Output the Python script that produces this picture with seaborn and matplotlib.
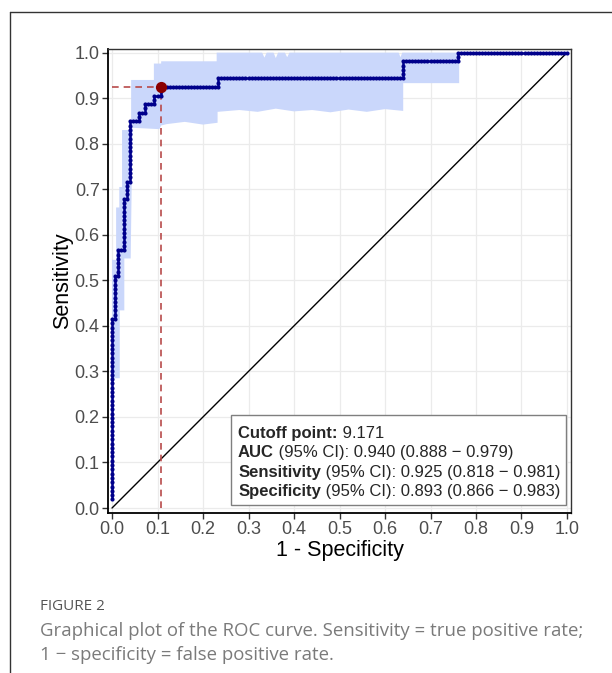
import numpy as np
import pandas as pd
import matplotlib
matplotlib.use("Agg")
import matplotlib.pyplot as plt
from matplotlib.patches import Rectangle
import seaborn as sns

# ROC curve: case counts at each corner of the step curve
n_neg = 150
n_pos = 106
corner_fp = [0, 0, 1, 1, 2, 2, 4, 4, 5, 5, 6, 6, 9, 9, 11, 11, 14, 14, 16, 16, 35, 35, 96, 96, 114, 114, 150]
corner_tp = [2, 44, 44, 54, 54, 60, 60, 72, 72, 76, 76, 90, 90, 92, 92, 94, 94, 96, 96, 98, 98, 100, 100, 104, 104, 106, 106]

# best cutoff
cut_fpr = 0.107
cut_tpr = 0.925

# 95% CI band outline (1 - specificity, sensitivity)
band_fpr = [0.000, 0.000, 0.009, 0.009, 0.016, 0.016, 0.022, 0.022, 0.042, 0.042, 0.092, 0.092,
            0.108, 0.108, 0.230, 0.230, 0.330, 0.335, 0.340, 0.355, 0.360, 0.365, 0.380, 0.385,
            0.390, 0.630, 0.634, 0.638, 0.763,
            0.763, 0.640, 0.640, 0.600, 0.560, 0.520, 0.480, 0.440, 0.400, 0.360, 0.320, 0.280,
            0.232, 0.232, 0.200, 0.160, 0.120, 0.108, 0.104, 0.045, 0.041, 0.027, 0.027, 0.017,
            0.017, 0.000]
band_tpr = [0.285, 0.545, 0.545, 0.660, 0.660, 0.705, 0.705, 0.830, 0.830, 0.940, 0.940, 0.976,
            0.976, 0.981, 0.981, 1.000, 1.000, 0.989, 1.000, 1.000, 0.988, 1.000, 1.000, 0.990,
            1.000, 1.000, 0.990, 1.000, 1.000,
            0.933, 0.933, 0.872, 0.876, 0.870, 0.875, 0.869, 0.874, 0.871, 0.877, 0.870, 0.874,
            0.870, 0.846, 0.842, 0.848, 0.843, 0.840, 0.832, 0.835, 0.548, 0.548, 0.434, 0.434,
            0.285, 0.285]

ticks = [0.0, 0.1, 0.2, 0.3, 0.4, 0.5, 0.6, 0.7, 0.8, 0.9, 1.0]
box_bold = ["Cutoff point:", "AUC", "Sensitivity", "Specificity"]
box_rest = [" 9.171",
            " (95% CI): 0.940 (0.888 − 0.979)",
            " (95% CI): 0.925 (0.818 − 0.981)",
            " (95% CI): 0.893 (0.866 − 0.983)"]

# walk the corners one case at a time to get every threshold point
fp_pts, tp_pts = [corner_fp[0]], [corner_tp[0]]
for fp, tp in zip(corner_fp[1:], corner_tp[1:]):
    while fp_pts[-1] < fp:
        fp_pts.append(fp_pts[-1] + 1)
        tp_pts.append(tp_pts[-1])
    while tp_pts[-1] < tp:
        fp_pts.append(fp_pts[-1])
        tp_pts.append(tp_pts[-1] + 1)
roc = pd.DataFrame({"fpr": np.array(fp_pts) / n_neg, "tpr": np.array(tp_pts) / n_pos})

sns.set_style("whitegrid")
plt.rcParams["font.family"] = ["Liberation Sans", "DejaVu Sans"]

fig = plt.figure(figsize=(6.12, 6.73), dpi=100)
ax = fig.add_axes([0.1765, 0.2377, 0.7565, 0.6895])

ax.fill(band_fpr, band_tpr, color="#cad7fb", lw=0, zorder=1)
ax.plot([0, 1], [0, 1], color="black", lw=1.0, zorder=2)
ax.plot([0, cut_fpr], [cut_tpr, cut_tpr], color="#b84a4a", lw=1.2, ls=(0, (4, 3)), zorder=2)
ax.plot([cut_fpr, cut_fpr], [0, cut_tpr], color="#b84a4a", lw=1.2, ls=(0, (4, 3)), zorder=2)

sns.lineplot(data=roc, x="fpr", y="tpr", sort=False, estimator=None, color="#00008b", lw=1.8, ax=ax, zorder=3)
sns.scatterplot(data=roc, x="fpr", y="tpr", color="#00008b", s=9, linewidth=0, ax=ax, zorder=4)
ax.scatter([cut_fpr], [cut_tpr], s=65, color="#8b0000", zorder=5, linewidths=0)

# stats box
ax.add_patch(Rectangle((0.262, 0.007), 0.736, 0.197, fc="white", ec="#7f7f7f", lw=1, zorder=6))
for i, (b, r) in enumerate(zip(box_bold, box_rest)):
    y = 0.1667 - i * 0.0424
    t = ax.text(0.277, y, b, fontsize=12, fontweight="bold", ha="left", va="center_baseline", zorder=7)
    ax.annotate(r, xy=(1, 0), xycoords=t, xytext=(0, 0), textcoords="offset points",
                fontsize=12, ha="left", va="bottom", zorder=7)

ax.set_xlim(-0.0088, 1.0088)
ax.set_ylim(-0.011, 1.008)
ax.set_xticks(ticks)
ax.set_yticks(ticks)
ax.set_xticklabels([f"{t:.1f}" for t in ticks])
ax.set_yticklabels([f"{t:.1f}" for t in ticks])
ax.tick_params(axis="both", length=4, width=1, color="#333333", direction="out",
               labelcolor="#4d4d4d", labelsize=13, pad=2, left=True, bottom=True)
ax.grid(True, color="#ebebeb", lw=0.9)
ax.set_axisbelow(True)
for side in ["top", "right"]:
    ax.spines[side].set_color("#333333")
    ax.spines[side].set_linewidth(1.0)
for side in ["left", "bottom"]:
    ax.spines[side].set_color("black")
    ax.spines[side].set_linewidth(1.3)

ax.set_xlabel("1 - Specificity", fontsize=15.5, color="black", labelpad=1)
ax.set_ylabel("Sensitivity", fontsize=15.5, color="black", labelpad=1)

# page frame and caption
fig.add_artist(plt.Line2D([9.5 / 612, 9.5 / 612], [0, 1 - 12 / 673], transform=fig.transFigure, color="#333333", lw=1))
fig.add_artist(plt.Line2D([9.5 / 612, 1], [1 - 12 / 673, 1 - 12 / 673], transform=fig.transFigure, color="#333333", lw=1))
fig.text(40 / 612, 1 - 607 / 673, "FIGURE 2", fontsize=11, color="#555555", va="center", family="Open Sans")
fig.text(40 / 612, 1 - 631 / 673, "Graphical plot of the ROC curve. Sensitivity = true positive rate;",
         fontsize=13.4, color="#7a7a7a", va="center", family="Open Sans")
fig.text(40 / 612, 1 - 655 / 673, "1 − specificity = false positive rate.",
         fontsize=13.4, color="#7a7a7a", va="center", family="Open Sans")

fig.savefig("out.png", dpi=100)
